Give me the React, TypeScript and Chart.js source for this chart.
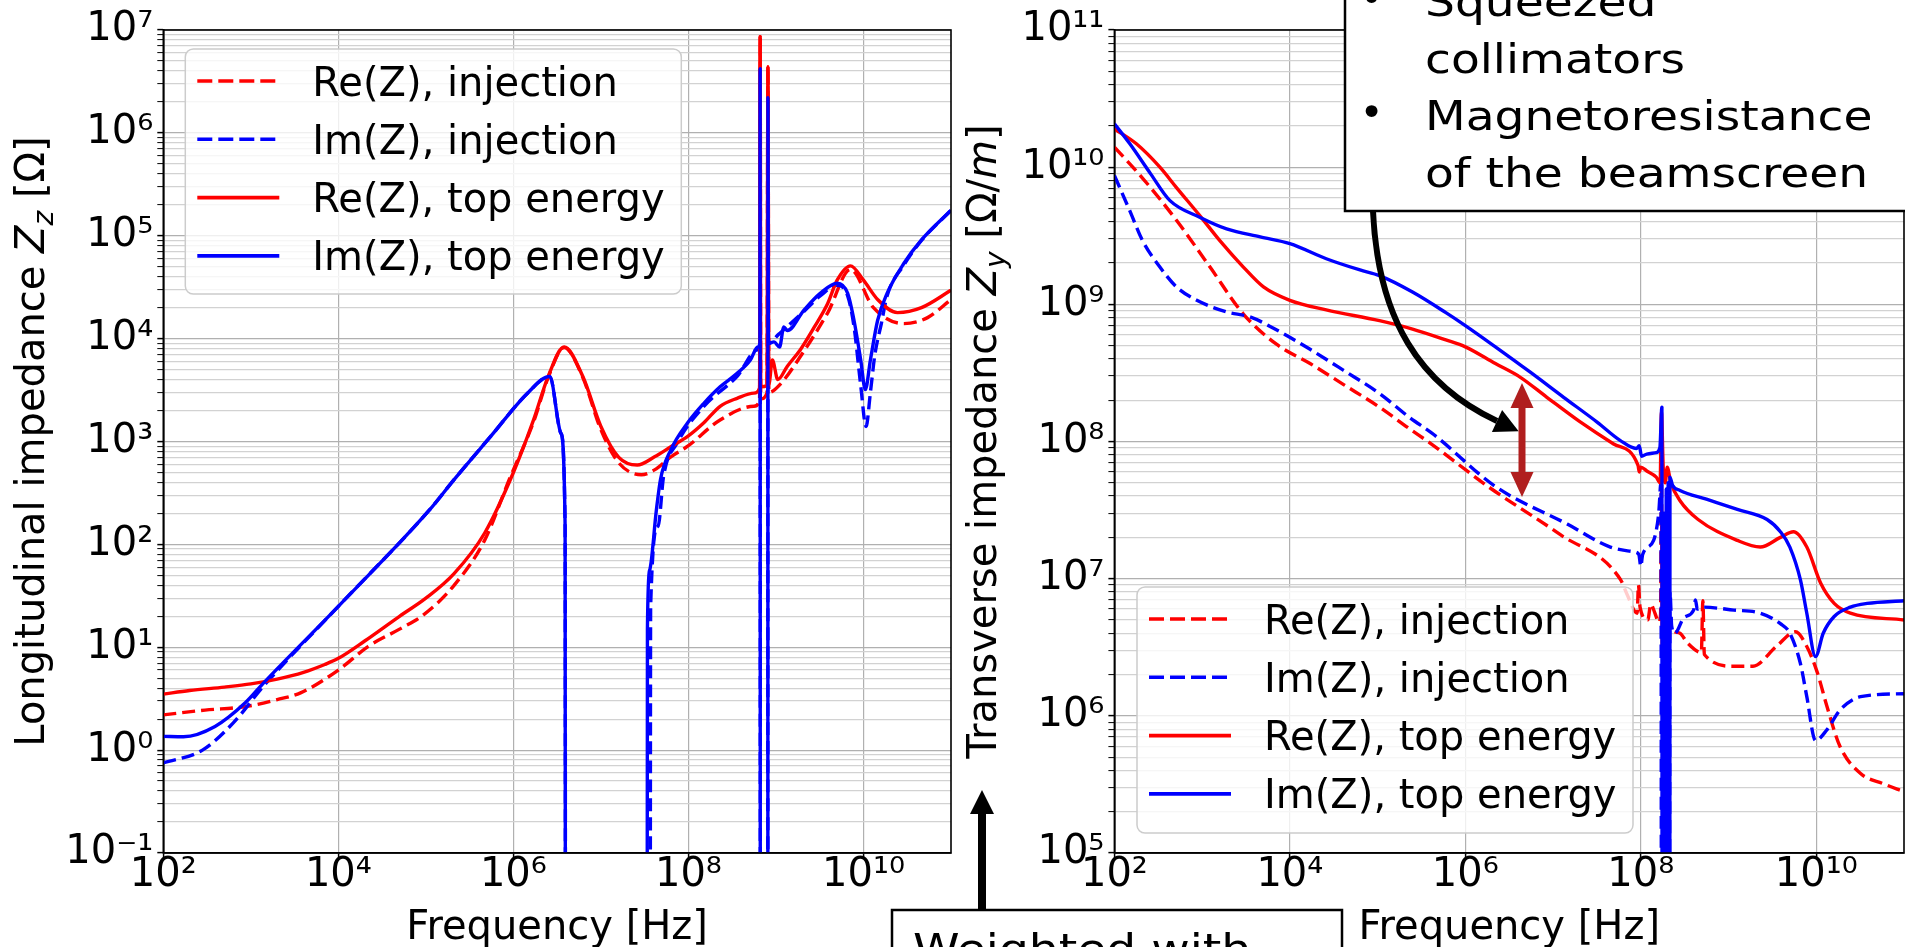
import React, { useEffect, useRef } from "react";
import { Chart, registerables } from "chart.js";

Chart.register(...registerables);

const FONT = "'DejaVu Sans', 'Noto Sans', sans-serif";
const NOTE_FONT = "'DejaVu Sans', sans-serif";
const NEG = -1; // value is negative there: it falls off the bottom of a log axis
const LOG_FLOOR = 1e-12;

type Pt = [number, number];

// ---------- Longitudinal impedance (left panel): [frequency Hz, Z Ohm] ----------
const longReInjection: Pt[] = [
  [1e2, 2.2], [3e2, 2.45], [8.7e2, 2.65], [2e3, 3.1], [3.7e3, 3.6], [1e4, 6.0], [2.2e4, 10.2],
  [5e4, 15], [9.3e4, 20.5], [2.1e5, 40], [4.7e5, 110], [9e5, 430], [1.7e6, 1550], [2.5e6, 4200],
  [3.8e6, 8200], [6.2e6, 4200], [1e7, 1300], [1.6e7, 620], [2.9e7, 475], [4.1e7, 530], [6.3e7, 710],
  [9.8e7, 900], [2.3e8, 1620], [5.6e8, 2200], [6.5e8, 2500], [6.6e8, 8.6e6], [6.7e8, 2600],
  [7.9e8, 2950], [8.1e8, 4.4e6], [8.3e8, 3000], [1.15e9, 3700], [1.9e9, 6700], [3.9e9, 17800],
  [7.1e9, 47000], [1.3e10, 20000], [2.9e10, 14000], [5.4e10, 16000], [1e11, 24000],
];
const longImInjection: Pt[] = [
  [1e2, 0.75], [2.8e2, 1.0], [6.3e2, 1.84], [1.4e3, 4.2], [1e4, 25], [1.1e5, 216], [2.1e5, 426],
  [5.5e5, 1120], [1.45e6, 2950], [2.6e6, 4300], [3.5e6, 1200], [3.9e6, 150], [4.0e6, NEG],
  [3.6e7, NEG], [3.7e7, 25], [4.5e7, 150], [5.2e7, 460], [7.4e7, 960], [1.5e8, 2200], [3.6e8, 4300],
  [6.2e8, 7800], [6.55e8, 8500], [6.6e8, 4.2e6], [6.65e8, NEG], [8.05e8, NEG], [8.1e8, 2.2e6],
  [8.2e8, 9000], [1.07e9, 11000], [2.1e9, 18500], [3.2e9, 26000], [5e9, 33000], [6.6e9, 26000],
  [7.8e9, 13000], [9.3e9, 3500], [1.07e10, 1400], [1.2e10, 3000], [1.35e10, 7000], [1.6e10, 14000],
  [1.86e10, 26000], [2.9e10, 52000], [4.6e10, 90000], [1e11, 177000],
];
const longReTop: Pt[] = [
  [1e2, 3.5], [2e2, 3.8], [5e2, 4.1], [1e3, 4.4], [2e3, 4.9], [4e3, 5.7], [7e3, 6.8], [1e4, 7.8],
  [2e4, 11.5], [5e4, 20], [1e5, 30], [2.1e5, 52], [4.7e5, 129], [1e6, 500], [1.7e6, 1620],
  [2.5e6, 4300], [3.8e6, 8300], [6.2e6, 4300], [1e7, 1400], [1.6e7, 700], [2.6e7, 590], [4.1e7, 710],
  [6.3e7, 890], [9.8e7, 1120], [1.5e8, 1520], [2.3e8, 2200], [3.6e8, 2630], [5.6e8, 2950],
  [6.5e8, 3300], [6.6e8, 8.6e6], [6.7e8, 3400], [7.9e8, 3500], [8.1e8, 4.4e6], [8.3e8, 3600],
  [9.1e8, 6200], [1.05e9, 4000], [1.35e9, 5400], [1.9e9, 7800], [2.75e9, 13000], [3.9e9, 22000],
  [5e9, 37000], [7.1e9, 51000], [1e10, 37000], [1.45e10, 24000], [2.45e10, 17900], [4.6e10, 20000],
  [1e11, 29500],
];
const longImTop: Pt[] = [
  [1e2, 1.36], [1.7e2, 1.35], [3.9e2, 1.7], [8.7e2, 2.9], [1.4e3, 4.5], [1e4, 25], [1.1e5, 216],
  [2.1e5, 426], [5.5e5, 1120], [1.45e6, 2950], [2.6e6, 4300], [3.5e6, 1200], [3.9e6, 150],
  [4.0e6, NEG], [3.3e7, NEG], [3.4e7, 15], [3.6e7, 56], [4.3e7, 215], [4.8e7, 430], [6.3e7, 830],
  [9.8e7, 1520], [1.5e8, 2350], [2.3e8, 3400], [3.6e8, 4600], [5.1e8, 6200], [6.2e8, 8300],
  [6.55e8, 9000], [6.6e8, 4.2e6], [6.65e8, NEG], [8.05e8, NEG], [8.1e8, 2.2e6], [8.2e8, 9000],
  [9.5e8, 9300], [1.1e9, 8300], [1.23e9, 13000], [1.35e9, 12000], [2.1e9, 19000], [3.2e9, 27500],
  [5e9, 34500], [6.6e9, 27500], [7.8e9, 15000], [9.3e9, 6200], [1.05e10, 3200], [1.2e10, 6200],
  [1.45e10, 15000], [1.86e10, 27500], [2.9e10, 54000], [4.6e10, 91000], [1e11, 177000],
];

// ---------- Transverse impedance (right panel): [frequency Hz, Z Ohm/m] ----------
const transReInjection: Pt[] = [
  [1e2, 1.4e10], [2.1e2, 8.3e9], [5.1e2, 4.1e9], [1.23e3, 1.87e9], [2.95e3, 8.5e8], [7.1e3, 5.1e8],
  [1.7e4, 3.7e8], [4.1e4, 2.6e8], [1.05e5, 1.78e8], [2.3e5, 1.24e8], [4e5, 9.7e7], [1.9e6, 4.6e7],
  [1.2e7, 2.1e7], [5.9e7, 9.8e6], [6.9e7, 7.8e6], [9.1e7, 5.6e6], [9.4e7, 9e6], [9.8e7, 6.2e6],
  [1.2e8, 5.0e6], [1.3e8, 6.5e6], [1.45e8, 5.6e6], [1.6e8, 4.8e6], [1.68e8, 5.5e6], [1.72e8, 5.5e7],
  [1.76e8, 3e6], [1.8e8, 1.5e7], [1.85e8, 4e6], [1.92e8, 1.2e7], [2.0e8, 3e6], [2.1e8, 5e6],
  [2.3e8, 4.2e6], [2.8e8, 4.0e6], [3.4e8, 3.4e6], [4.9e8, 2.9e6], [5.1e8, 6.9e6], [5.3e8, 2.8e6],
  [1.15e9, 2.3e6], [1.9e9, 2.3e6], [3.5e9, 3.2e6], [5.8e9, 4.1e6], [7.8e9, 3.2e6], [1.02e10, 2.1e6],
  [1.32e10, 1.18e6], [1.86e10, 6.0e5], [3.2e10, 3.8e5], [5.8e10, 3.2e5], [1e11, 2.8e5],
];
const transImInjection: Pt[] = [
  [1e2, 8.7e9], [1.5e2, 4.8e9], [2.1e2, 2.9e9], [3.3e2, 1.87e9], [5.1e2, 1.34e9], [8.7e2, 1.07e9],
  [1.9e3, 8.8e8], [3.5e3, 8.1e8], [7.1e3, 6.5e8], [1.7e4, 4.7e8], [4.1e4, 3.3e8], [1.05e5, 2.24e8],
  [2.3e5, 1.5e8], [4.4e5, 1.12e8], [2.2e6, 4.7e7], [1.45e7, 2.5e7], [4.5e7, 1.7e7], [8.3e7, 1.57e7],
  [9.5e7, 1.5e7], [1e8, 1.23e7], [1.05e8, 1.5e7], [1.4e8, 1.9e7], [1.6e8, 3.0e7], [1.7e8, 5e7],
  [1.75e8, NEG], [1.85e8, 2e7], [1.9e8, NEG], [2.0e8, 1.5e7], [2.05e8, NEG], [2.15e8, 8e6],
  [2.25e8, 4.5e6], [2.45e8, 4.0e6], [3.1e8, 5.2e6], [4e8, 5.9e6], [4.2e8, 7e6], [4.4e8, 6.0e6],
  [5.1e8, 6.2e6], [1.15e9, 5.9e6], [2.3e9, 5.6e6], [3.9e9, 4.7e6], [5e9, 4.0e6], [6.6e9, 2.4e6],
  [7.8e9, 1.38e6], [9.8e9, 6.6e5], [1.32e10, 7.9e5], [1.86e10, 1.1e6], [3.2e10, 1.38e6], [1e11, 1.45e6],
];
const transReTop: Pt[] = [
  [1e2, 1.9e10], [1.78e2, 1.48e10], [3.3e2, 1.0e10], [5.1e2, 7.1e9], [9.5e2, 4.4e9], [1.6e3, 2.9e9],
  [2.95e3, 1.87e9], [5e3, 1.34e9], [1e4, 1.07e9], [2.6e4, 9.1e8], [1.05e5, 7.6e8], [2.5e5, 6.6e8],
  [6e5, 5.5e8], [1e6, 4.9e8], [2.2e6, 3.7e8], [4.2e6, 2.95e8], [8.5e6, 2.1e8], [2e7, 1.4e8],
  [4.9e7, 9.6e7], [9.3e7, 6.7e7], [9.6e7, 6.0e7], [1.0e8, 6.5e7], [1.17e8, 6.1e7], [1.5e8, 5.5e7],
  [1.66e8, 5.0e7], [1.72e8, 1.64e8], [1.8e8, 6.5e7], [1.9e8, 5.0e7], [2.0e8, 6.5e7], [2.2e8, 5.0e7],
  [2.8e8, 3.7e7], [4.5e8, 2.7e7], [1.26e9, 1.9e7], [2.3e9, 1.7e7], [3.9e9, 2.0e7], [5.5e9, 2.2e7],
  [7.8e9, 1.7e7], [1.12e10, 9.3e6], [1.6e10, 6.6e6], [2.45e10, 5.6e6], [1e11, 5.0e6],
];
const transImTop: Pt[] = [
  [1e2, 2.07e10], [1.5e2, 1.48e10], [2.6e2, 8.9e9], [4.3e2, 5.7e9], [9.5e2, 4.3e9], [1.9e3, 3.55e9],
  [4.6e3, 3.1e9], [1e4, 2.77e9], [2.6e4, 2.15e9], [6.3e4, 1.78e9], [1.05e5, 1.62e9], [2.5e5, 1.23e9],
  [6e5, 8.7e8], [1e6, 7.0e8], [2.2e6, 4.9e8], [5.5e6, 3.2e8], [1.32e7, 2.1e8], [3.2e7, 1.38e8],
  [5.8e7, 1.02e8], [8.9e7, 8.9e7], [9.6e7, 9.3e7], [1.02e8, 7.8e7], [1.17e8, 8.1e7], [1.5e8, 8.3e7],
  [1.65e8, 9e7], [1.74e8, 1.78e8], [1.78e8, NEG], [1.84e8, 3e7], [1.88e8, NEG], [1.95e8, 4.5e7],
  [1.98e8, NEG], [2.05e8, 5e7], [2.1e8, NEG], [2.15e8, 5.5e7], [2.3e8, 4.8e7], [2.8e8, 4.4e7],
  [5.6e8, 3.8e7], [1.26e9, 3.2e7], [2.75e9, 2.7e7], [3.9e9, 2.2e7], [5e9, 1.7e7], [6.6e9, 9.8e6],
  [7.8e9, 5.6e6], [9.8e9, 2.7e6], [1.2e10, 4.0e6], [1.6e10, 5.3e6], [2.45e10, 6.2e6], [3.8e10, 6.6e6],
  [1e11, 6.9e6],
];

const seriesLabels = ["Re(Z), injection", "Im(Z), injection", "Re(Z), top energy", "Im(Z), top energy"];
const seriesColors = ["#ff0000", "#0000ff", "#ff0000", "#0000ff"];
const seriesDashed = [true, true, false, false];

const freqTickValues = [1e2, 1e4, 1e6, 1e8, 1e10];
const longDecades = [1e-1, 1e0, 1e1, 1e2, 1e3, 1e4, 1e5, 1e6, 1e7];
const transDecades = [1e5, 1e6, 1e7, 1e8, 1e9, 1e10, 1e11];
const minorSteps = [2, 3, 4, 5, 6, 7, 8, 9];

type Piece = { t: string; italic?: boolean; sub?: boolean };
const longTitle: Piece[] = [
  { t: "Longitudinal impedance " }, { t: "Z", italic: true }, { t: "z", italic: true, sub: true }, { t: " [Ω]" },
];
const transTitle: Piece[] = [
  { t: "Transverse impedance " }, { t: "Z", italic: true }, { t: "y", italic: true, sub: true },
  { t: " [Ω/" }, { t: "m", italic: true }, { t: "]" },
];
const freqTitle: Piece[] = [{ t: "Frequency [Hz]" }];

const noteTopLines = ["Squeezed", "collimators", "Magnetoresistance", "of the beamscreen"];
const noteTopBullets = [true, false, true, false];
const noteBottomText = "Weighted with";

const SUP: Record<string, string> = {
  "0": "⁰", "1": "¹", "2": "²", "3": "³", "4": "⁴", "5": "⁵", "6": "⁶", "7": "⁷", "8": "⁸", "9": "⁹", "-": "⁻",
};
const isDecade = (v: number) => Math.abs(Math.log10(v) - Math.round(Math.log10(v))) < 1e-6;
const decadeLabel = (v: number) =>
  "10" + String(Math.round(Math.log10(v))).split("").map((c) => SUP[c]).join("");

function drawRich(ctx: CanvasRenderingContext2D, pieces: Piece[], size: number) {
  const fontFor = (p: Piece) => `${p.italic ? "italic " : ""}${p.sub ? Math.round(size * 0.7) : size}px ${FONT}`;
  let total = 0;
  for (const p of pieces) {
    ctx.font = fontFor(p);
    total += ctx.measureText(p.t).width;
  }
  let x = -total / 2;
  ctx.textAlign = "left";
  ctx.textBaseline = "alphabetic";
  ctx.fillStyle = "#000";
  for (const p of pieces) {
    ctx.font = fontFor(p);
    ctx.fillText(p.t, x, p.sub ? size * 0.22 : 0);
    x += ctx.measureText(p.t).width;
  }
}

type LegendPos = { dx: number; dy: number; w: number; h: number; fromBottom: boolean };
type PanelOpts = {
  yAxisWidth: number;
  padRight: number;
  title: Piece[];
  titleBaselineX: number;
  legend: LegendPos;
};

function decorPlugin(o: PanelOpts) {
  return {
    id: "decor",
    afterDatasetsDraw(chart: any) {
      const ctx: CanvasRenderingContext2D = chart.ctx;
      const a = chart.chartArea;
      const L = o.legend;
      const bx = a.left + L.dx;
      const by = L.fromBottom ? a.bottom - L.dy - L.h : a.top + L.dy;
      ctx.save();
      ctx.beginPath();
      (ctx as any).roundRect(bx, by, L.w, L.h, 8);
      ctx.fillStyle = "rgba(255,255,255,0.8)";
      ctx.fill();
      ctx.lineWidth = 1.5;
      ctx.strokeStyle = "#cccccc";
      ctx.stroke();
      chart.data.datasets.forEach((ds: any, i: number) => {
        const y = by + 32 + 58.3 * i;
        ctx.beginPath();
        ctx.setLineDash(ds.borderDash && ds.borderDash.length ? [15, 6] : []);
        ctx.strokeStyle = ds.borderColor;
        ctx.lineWidth = 3.6;
        ctx.lineCap = "butt";
        ctx.moveTo(bx + 12, y);
        ctx.lineTo(bx + 94, y);
        ctx.stroke();
        ctx.setLineDash([]);
        ctx.fillStyle = "#000";
        ctx.font = `40px ${FONT}`;
        ctx.textAlign = "left";
        ctx.textBaseline = "alphabetic";
        ctx.fillText(ds.label, bx + 127, y + 14.5);
      });
      ctx.restore();
    },
    afterDraw(chart: any) {
      const ctx: CanvasRenderingContext2D = chart.ctx;
      const a = chart.chartArea;
      ctx.save();
      ctx.strokeStyle = "#000";
      ctx.lineWidth = 1.6;
      ctx.strokeRect(a.left, a.top, a.right - a.left, a.bottom - a.top);
      ctx.restore();

      ctx.save();
      ctx.translate(o.titleBaselineX, (a.top + a.bottom) / 2);
      ctx.rotate(-Math.PI / 2);
      drawRich(ctx, o.title, 40);
      ctx.restore();

      ctx.save();
      ctx.translate((a.left + a.right) / 2, a.bottom + 86);
      drawRich(ctx, freqTitle, 40);
      ctx.restore();
    },
  };
}

function buildConfig(series: Pt[][], yDecades: number[], o: PanelOpts): any {
  const yTicks = [...yDecades];
  for (let i = 0; i < yDecades.length - 1; i++) for (const m of minorSteps) yTicks.push(yDecades[i] * m);
  yTicks.sort((p, q) => p - q);
  const tickFont = { family: FONT, size: 40, lineHeight: 1 };
  return {
    type: "line",
    data: {
      datasets: series.map((s, i) => ({
        label: seriesLabels[i],
        data: s.map(([f, v]) => ({ x: f, y: v > 0 ? v : LOG_FLOOR })),
        borderColor: seriesColors[i],
        backgroundColor: seriesColors[i],
        borderWidth: 3.4,
        borderDash: seriesDashed[i] ? [13, 6] : [],
        borderJoinStyle: "round",
        pointRadius: 0,
        cubicInterpolationMode: "monotone",
        fill: false,
        order: series.length - i,
      })),
    },
    options: {
      responsive: false,
      animation: false,
      devicePixelRatio: 1,
      events: [],
      layout: { padding: { top: 30, right: o.padRight, bottom: 0, left: 0 } },
      plugins: { legend: { display: false }, tooltip: { enabled: false } },
      scales: {
        x: {
          type: "logarithmic",
          min: 1e2,
          max: 1e11,
          afterBuildTicks: (s: any) => {
            s.ticks = freqTickValues.map((v) => ({ value: v }));
          },
          afterFit: (s: any) => {
            s.height = 94;
          },
          ticks: {
            callback: (v: any) => decadeLabel(Number(v)),
            autoSkip: false,
            maxRotation: 0,
            minRotation: 0,
            font: tickFont,
            color: "#000",
            padding: -3,
          },
          grid: { color: "#b0b0b0", lineWidth: 1.2, tickLength: 6, tickColor: "#000", tickWidth: 1.5 },
          border: { color: "#000", width: 1.6 },
        },
        y: {
          type: "logarithmic",
          min: yDecades[0],
          max: yDecades[yDecades.length - 1],
          afterBuildTicks: (s: any) => {
            s.ticks = yTicks.map((v) => ({ value: v }));
          },
          afterFit: (s: any) => {
            s.width = o.yAxisWidth;
          },
          ticks: {
            callback: (v: any) => (isDecade(Number(v)) ? decadeLabel(Number(v)) : ""),
            autoSkip: false,
            font: tickFont,
            color: "#000",
            padding: 4,
          },
          grid: {
            color: (c: any) => (c.tick && !isDecade(c.tick.value) ? "#d2d2d2" : "#b0b0b0"),
            lineWidth: 1.2,
            tickLength: 6,
            tickColor: "#000",
            tickWidth: (c: any) => (c.tick && !isDecade(c.tick.value) ? 1 : 1.5),
          },
          border: { color: "#000", width: 1.6 },
        },
      },
    },
    plugins: [decorPlugin(o)],
  };
}

export default function App() {
  const leftRef = useRef<HTMLCanvasElement>(null);
  const rightRef = useRef<HTMLCanvasElement>(null);

  useEffect(() => {
    const left = new Chart(
      leftRef.current as HTMLCanvasElement,
      buildConfig([longReInjection, longImInjection, longReTop, longImTop], longDecades, {
        yAxisWidth: 163.3,
        padRight: 4,
        title: longTitle,
        titleBaselineX: 44,
        legend: { dx: 22, dy: 19, w: 496, h: 245, fromBottom: false },
      })
    );
    const right = new Chart(
      rightRef.current as HTMLCanvasElement,
      buildConfig([transReInjection, transImInjection, transReTop, transImTop], transDecades, {
        yAxisWidth: 159.4,
        padRight: 1,
        title: transTitle,
        titleBaselineX: 41,
        legend: { dx: 22.6, dy: 20, w: 496, h: 246, fromBottom: true },
      })
    );
    return () => {
      left.destroy();
      right.destroy();
    };
  }, []);

  const noteStyle: React.CSSProperties = { fontFamily: NOTE_FONT, fontSize: 41 };
  const dark = "#b01e1e";

  return (
    <div
      style={{ position: "absolute", left: 0, top: 0, width: 1905, height: 947, overflow: "hidden", background: "#fff" }}
    >
      <canvas ref={leftRef} width={955} height={947} style={{ position: "absolute", left: 0, top: 0 }} />
      <canvas ref={rightRef} width={950} height={947} style={{ position: "absolute", left: 955, top: 0 }} />
      <svg width={1905} height={947} style={{ position: "absolute", left: 0, top: 0 }}>
        {/* note box top right */}
        <rect x={1345} y={-10} width={620} height={221} fill="#fff" stroke="#000" strokeWidth={2.5} />
        {noteTopLines.map((t, i) => (
          <g key={t}>
            {noteTopBullets[i] && (
              <text x={1371.5} y={16 + 57 * i - 4} textAnchor="middle" style={noteStyle}>
                •
              </text>
            )}
            <text transform={`translate(1425 ${16 + 57 * i}) scale(1.15 1)`} style={noteStyle}>
              {t}
            </text>
          </g>
        ))}
        {/* curved arrow */}
        <path d="M1373,211 C1378,320 1420,385 1497,421" stroke="#000" strokeWidth={6} fill="none" />
        <polygon points="1518.7,431.2 1491.9,431.9 1502.1,410.1" fill="#000" />
        {/* dark red double arrow */}
        <line x1={1522} y1={404} x2={1522} y2={476} stroke={dark} strokeWidth={7} />
        <polygon points="1522,383 1533.5,408 1510.5,408" fill={dark} />
        <polygon points="1522,497 1533.5,472 1510.5,472" fill={dark} />
        {/* vertical arrow and bottom note */}
        <line x1={982} y1={912} x2={982} y2={810} stroke="#000" strokeWidth={8} />
        <polygon points="982,790 994,814 970,814" fill="#000" />
        <rect x={892} y={910} width={450} height={60} fill="#fff" stroke="#000" strokeWidth={2.5} />
        <text transform="translate(913 963) scale(1.15 1)" style={noteStyle}>
          {noteBottomText}
        </text>
      </svg>
    </div>
  );
}
